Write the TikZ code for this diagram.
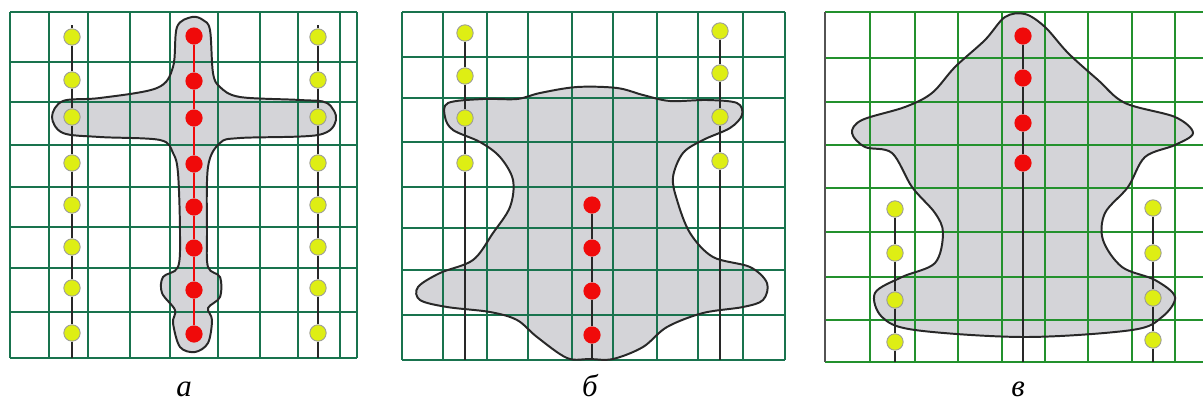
\documentclass[tikz,border=0pt]{standalone}
\usepackage{fontspec}
\setmainfont{Liberation Serif}
\usetikzlibrary{positioning}
\definecolor{gridgreen}{RGB}{25,115,78}
\definecolor{gridbright}{RGB}{35,145,45}
\definecolor{blobgray}{RGB}{212,212,216}
\definecolor{dotyellow}{RGB}{222,238,20}
\definecolor{dotred}{RGB}{240,10,10}
\definecolor{outline}{RGB}{40,40,40}

\begin{document}
\begin{tikzpicture}[
    x=0.025cm,y=-0.025cm,
    gridline/.style={gridgreen,line width=1.6pt},
    blob/.style={draw=outline,line width=1.4pt},
    ydot/.style={circle,fill=dotyellow,draw=gray!80,line width=0.6pt,minimum size=0.41cm,inner sep=0pt},
    rdot/.style={circle,fill=dotred,draw=none,minimum size=0.43cm,inner sep=0pt},
    stem/.style={outline,line width=1.3pt},
    caption/.style={font=\fontsize{22}{26}\selectfont\itshape,inner sep=0pt}
  ]
  \useasboundingbox (0,0) rectangle (1203,403);

  %% Panel a
  \fill[blobgray,save path=\blobA] plot[smooth cycle,tension=0.55] coordinates {
    (192,17) (203,20) (210,30) (213,73) (220,87) (240,97) (300,100) (327,103)
    (336,120) (318,135) (240,138) (220,143) (208,167) (207,233) (208,267)
    (220,277) (220,297) (208,308) (212,320) (208,343) (195,352) (180,347)
    (173,323) (175,310) (162,293) (163,277) (178,267) (180,233) (178,173)
    (173,153) (160,140) (100,137) (63,133) (52,117) (63,101) (100,98)
    (157,88) (173,67) (177,27)};
  \foreach \x in {10,49,88,130,170,218,260,298,340,357}
    \draw[gridline] (\x,12) -- (\x,358);
  \foreach \y in {12,62,102,145,187,227,268,312,358}
    \draw[gridline] (10,\y) -- (357,\y);
  \draw[blob,use path=\blobA];

  \foreach \y [count=\i] in {37,80,117,163,205,247,288,333}{
    \node[ydot] (aL\i) at (72,\y) {};
    \node[ydot] (aR\i) at (318,\y) {};
  }
  \foreach \y [count=\i] in {36,81,118,164,207,248,290,334}
    \node[rdot] (aC\i) at (194,\y) {};
  \coordinate (aLtop) at (72,25);
  \coordinate (aLbot) at (72,358);
  \coordinate (aRtop) at (318,25);
  \coordinate (aRbot) at (318,358);
  \draw[stem] (aLtop) -- (aL1) -- (aL2) -- (aL3) -- (aL4) -- (aL5) -- (aL6) -- (aL7) -- (aL8) -- (aLbot);
  \draw[stem] (aRtop) -- (aR1) -- (aR2) -- (aR3) -- (aR4) -- (aR5) -- (aR6) -- (aR7) -- (aR8) -- (aRbot);
  \draw[dotred,line width=0.9pt] (aC1) -- (aC2) -- (aC3) -- (aC4) -- (aC5) -- (aC6) -- (aC7) -- (aC8);
  \node[caption,anchor=base] (capA) at (184,396) {а};

  %% Panel b
  \fill[blobgray,save path=\blobB] plot[smooth cycle,tension=0.55] coordinates {
    (448,103) (483,99) (517,99) (540,93) (577,87) (617,88) (643,95) (670,101)
    (707,100) (737,103) (742,115) (730,128) (703,140) (683,153) (673,177)
    (677,200) (690,233) (713,257) (750,267) (767,283) (763,300) (743,307)
    (703,313) (667,327) (643,347) (613,359) (590,359) (567,358) (537,337)
    (517,320) (490,312) (447,307) (420,300) (418,287) (440,273) (473,260)
    (493,233) (510,207) (513,180) (500,157) (480,142) (453,130) (445,117)};
  \foreach \x in {402,443,487,528,572,613,657,698,743,785}
    \draw[gridline] (\x,12) -- (\x,360);
  \foreach \y in {12,57,98,142,187,228,270,315,360}
    \draw[gridline] (402,\y) -- (785,\y);
  \draw[blob,use path=\blobB];

  \foreach \y [count=\i] in {33,76,118,163}
    \node[ydot] (bL\i) at (465,\y) {};
  \foreach \y [count=\i] in {31,73,117,161}
    \node[ydot] (bR\i) at (720,\y) {};
  \foreach \y [count=\i] in {205,248,291,335}
    \node[rdot] (bC\i) at (592,\y) {};
  \coordinate (bLbot) at (465,360);
  \coordinate (bRbot) at (720,360);
  \coordinate (bCbot) at (592,360);
  \draw[stem] (bL1) -- (bL2) -- (bL3) -- (bL4) -- (bLbot);
  \draw[stem] (bR1) -- (bR2) -- (bR3) -- (bR4) -- (bRbot);
  \draw[stem] (bC1) -- (bC2) -- (bC3) -- (bC4) -- (bCbot);
  \node[caption,anchor=base] (capB) at (590,396) {б};

  %% Panel c
  \fill[blobgray,save path=\blobC] plot[smooth cycle,tension=0.55] coordinates {
    (1025,14) (1045,27) (1068,53) (1098,80) (1125,103) (1175,117) (1193,133)
    (1175,145) (1145,157) (1128,187) (1105,213) (1103,240) (1122,267)
    (1155,280) (1175,297) (1162,317) (1132,330) (1025,337) (915,330)
    (882,317) (875,293) (902,277) (935,263) (943,233) (935,213) (912,187)
    (892,153) (865,147) (852,133) (862,120) (905,107) (932,93) (955,67)
    (985,40) (1005,17)};
  \foreach \x in {825,870,915,958,1002,1045,1088,1132,1175}
    \draw[gridline,gridbright] (\x,12) -- (\x,362);
  \foreach \y in {12,58,102,145,188,232,277,320,362}
    \draw[gridline,gridbright] (825,\y) -- (1203,\y);
  \draw[outline!80,line width=1.5pt] (825,12) -- (825,362);
  \draw[blob,use path=\blobC];

  \foreach \y [count=\i] in {36,78,123,163}
    \node[rdot] (cC\i) at (1023,\y) {};
  \foreach \y [count=\i] in {209,253,300,342}
    \node[ydot] (cL\i) at (895,\y) {};
  \foreach \y [count=\i] in {208,253,298,340}
    \node[ydot] (cR\i) at (1153,\y) {};
  \coordinate (cLbot) at (895,362);
  \coordinate (cRbot) at (1153,362);
  \coordinate (cCbot) at (1023,362);
  \draw[stem] (cC1) -- (cC2) -- (cC3) -- (cC4) -- (cCbot);
  \draw[stem] (cL1) -- (cL2) -- (cL3) -- (cL4) -- (cLbot);
  \draw[stem] (cR1) -- (cR2) -- (cR3) -- (cR4) -- (cRbot);
  \node[caption,anchor=base] (capC) at (1018,396) {в};
\end{tikzpicture}
\end{document}
